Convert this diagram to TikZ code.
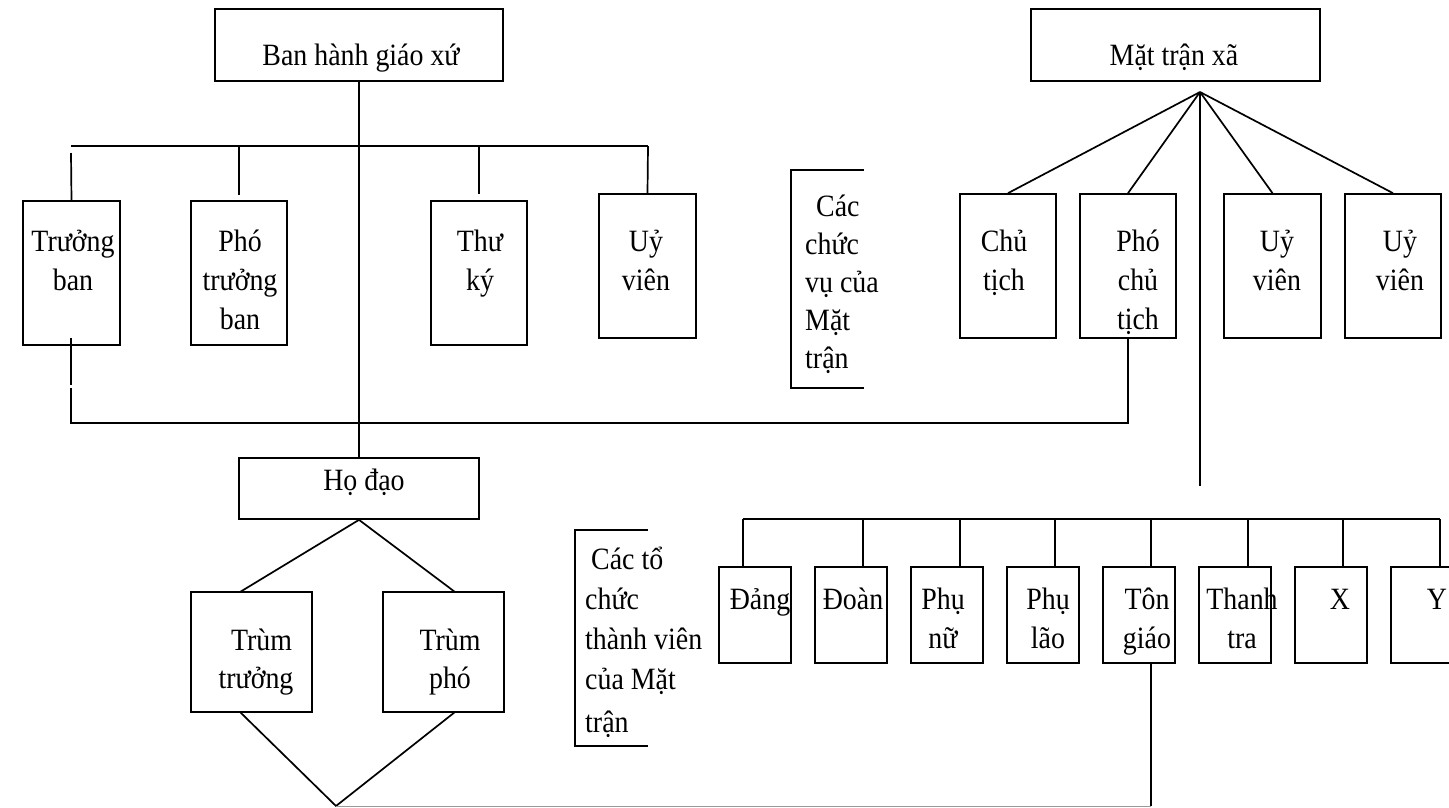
\documentclass[tikz,border=0pt]{standalone}
\usepackage{fontspec}
\setmainfont[FakeStretch=0.9]{Liberation Serif}
\usetikzlibrary{fit}

% stacked lines whose baseline is the baseline of the first line
\newcommand{\crows}[1]{\begin{tabular}[t]{@{}c@{}}#1\end{tabular}}
\newcommand{\lrows}[1]{\begin{tabular}[t]{@{}l@{}}#1\end{tabular}}

\tikzset{
  box/.style={draw, line width=1.7pt, inner sep=0pt},
  wire/.style={line width=1.7pt},
  faint/.style={line width=1pt, draw=black!40},
  txt/.style={inner sep=0pt, anchor=base, font=\fontsize{31}{39}\selectfont},
  ltxt/.style={txt, anchor=base west},
}

\begin{document}
\begin{tikzpicture}[x=1pt, y=-1pt]
\useasboundingbox (0,0) rectangle (1449,807);
\clip (0,0) rectangle (1449,807);

% ---------- parish council ----------
\node[box, fit={(215,9) (503,81)}] (ban) {};
\node[box, fit={(23,201) (120,345)}] (truongban) {};
\node[box, fit={(191,201) (287,345)}] (photruong) {};
\node[box, fit={(431,201) (527,345)}] (thuky) {};
\node[box, fit={(599,194) (696,338)}] (uyvienA) {};

\node[txt] (t-ban) at (361,65) {Ban hành giáo xứ};
\node[txt] (t-truongban) at (73,251) {\crows{Trưởng\\ban}};
\node[txt] (t-photruong) at (240,251) {\crows{Phó\\trưởng\\ban}};
\node[txt] (t-thuky) at (480,251) {\crows{Thư\\ký}};
\node[txt] (t-uyvienA) at (646,251) {\crows{Uỷ\\viên}};

% ---------- village front ----------
\node[box, fit={(1031,9) (1320,81)}] (mattran) {};
\node[box, fit={(960,194) (1056,338)}] (chutich) {};
\node[box, fit={(1080,194) (1176,338)}] (phochutich) {};
\node[box, fit={(1224,194) (1321,338)}] (uyvienB) {};
\node[box, fit={(1345,194) (1441,338)}] (uyvienC) {};

\node[txt] (t-mattran) at (1174,65) {Mặt trận xã};
\node[txt] (t-chutich) at (1004,251) {\crows{Chủ\\tịch}};
\node[txt] (t-phochutich) at (1138,251) {\crows{Phó\\chủ\\tịch}};
\node[txt] (t-uyvienB) at (1277,251) {\crows{Uỷ\\viên}};
\node[txt] (t-uyvienC) at (1400,251) {\crows{Uỷ\\viên}};

% bracket: offices of the front
\node[ltxt, font=\fontsize{31}{38}\selectfont] (t-chucvu) at (805,216)
  {\lrows{\hspace{11pt}Các\\chức\\vụ của\\Mặt\\trận}};
\coordinate (cvA) at (864,170);
\coordinate (cvB) at (791,170);
\coordinate (cvC) at (791,388);
\coordinate (cvD) at (864,388);
\draw[wire] (cvA) -- (cvB) -- (cvC) -- (cvD);

% ---------- religious community ----------
\node[box, fit={(239,458) (479,519)}] (hodao) {};
\node[box, fit={(191,592) (312,712)}] (trumtruong) {};
\node[box, fit={(383,592) (504,712)}] (trumpho) {};

\node[txt] (t-hodao) at (364,490) {Họ đạo};
\node[txt, font=\fontsize{31}{38}\selectfont] (t-trumtruong) at (256,650)
  {\crows{\hspace{11pt}Trùm\\trưởng}};
\node[txt, font=\fontsize{31}{38}\selectfont] (t-trumpho) at (450,650)
  {\crows{Trùm\\phó}};

% ---------- member organisations ----------
\node[box, fit={(719,567) (791,663)}] (dang) {};
\node[box, fit={(815,567) (887,663)}] (doan) {};
\node[box, fit={(911,567) (983,663)}] (phunu) {};
\node[box, fit={(1007,567) (1079,663)}] (phulao) {};
\node[box, fit={(1103,567) (1175,663)}] (tongiao) {};
\node[box, fit={(1199,567) (1271,663)}] (thanhtra) {};
\node[box, fit={(1295,567) (1367,663)}] (orgx) {};
\node[box, fit={(1391,567) (1463,663)}] (orgy) {};

\node[txt] (t-dang) at (760,609) {Đảng};
\node[txt] (t-doan) at (853,609) {Đoàn};
\node[txt] (t-phunu) at (943,609) {\crows{Phụ\\nữ}};
\node[txt] (t-phulao) at (1048,609) {\crows{Phụ\\lão}};
\node[txt] (t-tongiao) at (1147,609) {\crows{Tôn\\giáo}};
\node[txt] (t-thanhtra) at (1242,609) {\crows{Thanh\\tra}};
\node[txt] (t-orgx) at (1340,609) {X};
\node[txt] (t-orgy) at (1437,609) {Y};

% bracket: member organisations of the front
\node[ltxt, font=\fontsize{31}{40}\selectfont] (t-tochuc) at (585,569)
  {\lrows{\hspace{6pt}Các tổ\\chức\\thành viên\\của Mặt\\[3pt]trận}};
\coordinate (tcA) at (648,530);
\coordinate (tcB) at (575,530);
\coordinate (tcC) at (575,746);
\coordinate (tcD) at (648,746);
\draw[wire] (tcA) -- (tcB) -- (tcC) -- (tcD);

% ---------- connectors: parish council ----------
\draw[wire] (ban.south) -- (hodao.north);
\coordinate (barL) at (71,146);
\coordinate (barR) at (648,146);
\draw[wire] (barL) -- (barR);
\coordinate (dTB) at (71,153);
\coordinate (dPT) at (239,146);
\coordinate (dPTe) at (239,195);
\coordinate (dTK) at (479,146);
\coordinate (dTKe) at (479,194);
\draw[wire] (dTB) -- (truongban.north);
\draw[wire] (dPT) -- (dPTe);
\draw[wire] (dTK) -- (dTKe);
\draw[wire] (barR) -- (uyvienA.north);

% link from Trưởng ban to Phó chủ tịch
\coordinate (lkA) at (71,338);
\coordinate (lkB) at (71,385);
\coordinate (lkC) at (71,388);
\coordinate (lkD) at (71,423);
\draw[wire] (lkA) -- (lkB);
\draw[wire] (lkC) -- (lkD) -| (phochutich.south);

% ---------- connectors: village front ----------
\coordinate (apex) at (1200,92);
\coordinate (spine) at (1200,486);
\draw[wire] (apex) -- (chutich.north);
\draw[wire] (apex) -- (phochutich.north);
\draw[wire] (apex) -- (uyvienB.north);
\draw[wire] (apex) -- (uyvienC.north);
\draw[wire] (apex) -- (spine);

% ---------- connectors: member organisations ----------
\coordinate (obL) at (743,519);
\coordinate (obR) at (1440,519);
\draw[wire] (obL) -- (obR);
\coordinate (o2) at (863,519);
\coordinate (o3) at (960,519);
\coordinate (o4) at (1055,519);
\coordinate (o5) at (1151,519);
\coordinate (o6) at (1248,519);
\coordinate (o7) at (1343,519);
\draw[wire] (obL) -- (obL |- dang.north);
\draw[wire] (o2) -- (o2 |- doan.north);
\draw[wire] (o3) -- (o3 |- phunu.north);
\draw[wire] (o4) -- (o4 |- phulao.north);
\draw[wire] (o5) -- (o5 |- tongiao.north);
\draw[wire] (o6) -- (o6 |- thanhtra.north);
\draw[wire] (o7) -- (o7 |- orgx.north);
\draw[wire] (obR) -- (obR |- orgy.north);

% ---------- connectors: religious community ----------
\coordinate (ttTop) at (240,592);
\coordinate (tpTop) at (455,592);
\coordinate (ttBot) at (240,712);
\coordinate (tpBot) at (455,712);
\coordinate (tip) at (336,806);
\draw[wire] (ttTop) -- (hodao.south) -- (tpTop);
\draw[wire] (ttBot) -- (tip) -- (tpBot);

% Tôn giáo back to the community
\coordinate (tgEnd) at (1151,806);
\draw[wire] (tgEnd |- tongiao.south) -- (tgEnd);
\draw[faint] (tgEnd) -- (tip);
\end{tikzpicture}
\end{document}
